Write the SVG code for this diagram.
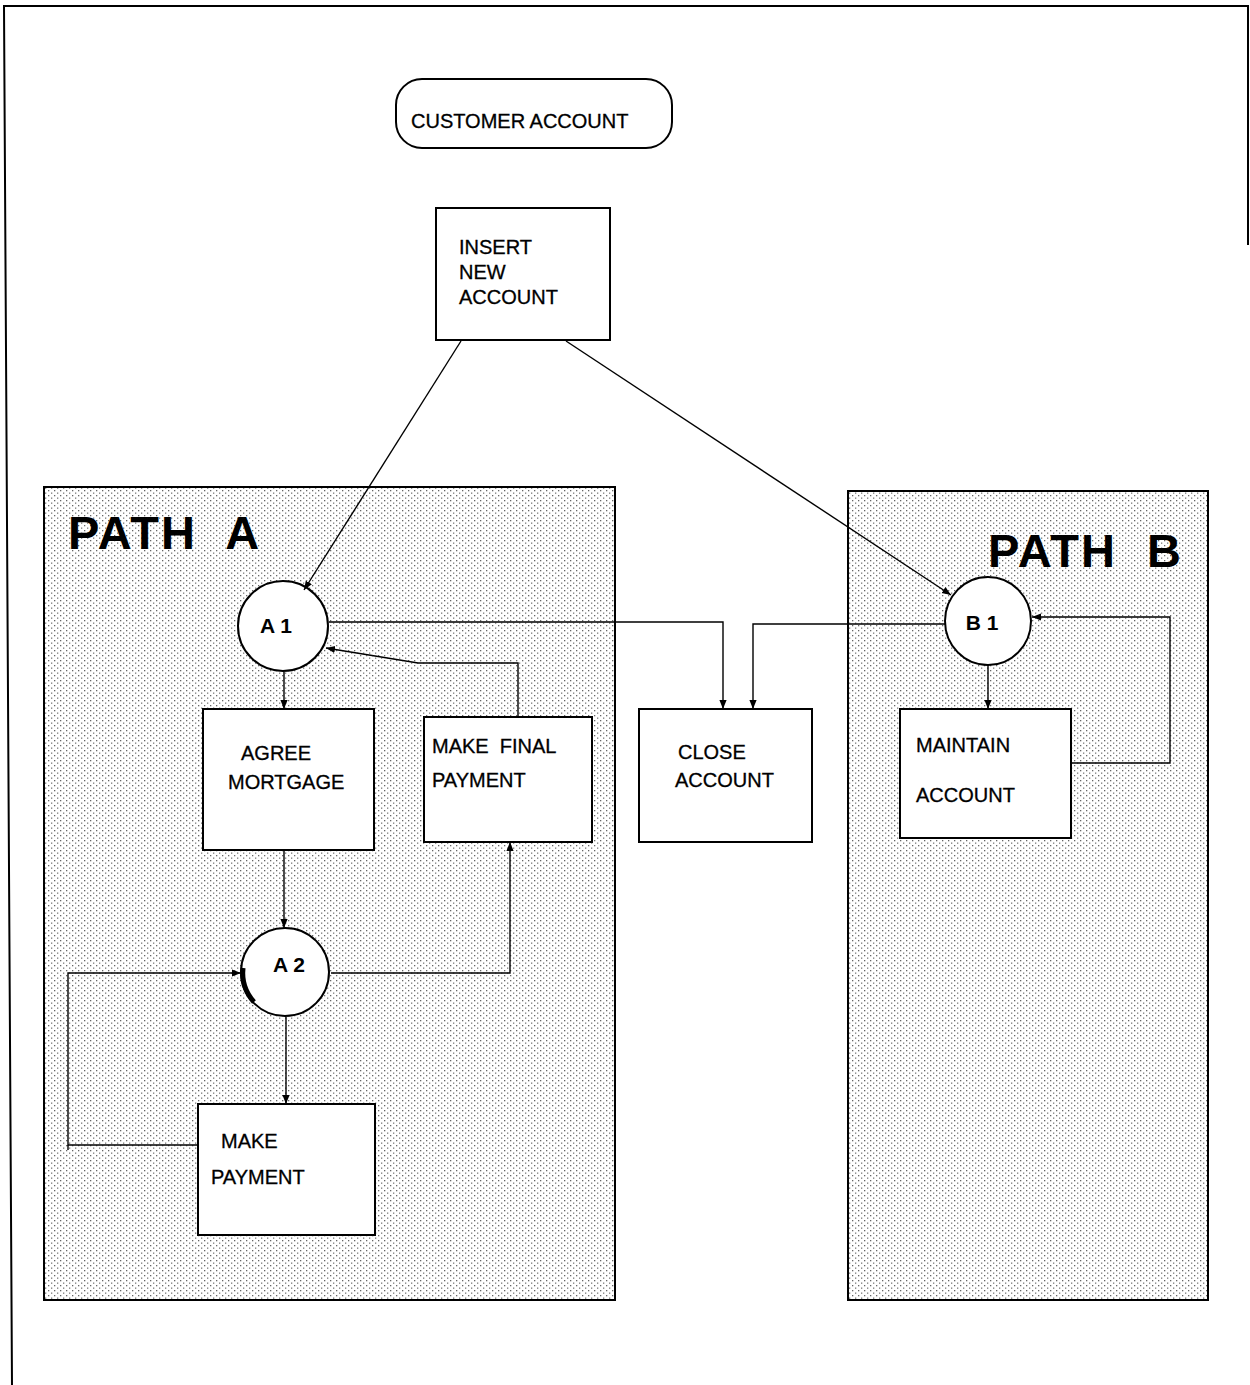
<svg xmlns="http://www.w3.org/2000/svg" width="1250" height="1385" viewBox="0 0 1250 1385">
  <defs>
    <!-- fine halftone stipple used for the two path panels -->
    <pattern id="stipple" width="6" height="5" patternUnits="userSpaceOnUse">
      <rect x="0" y="0" width="1.3" height="1.3" fill="#666"/>
      <rect x="3" y="2.5" width="1.3" height="1.3" fill="#777"/>
    </pattern>
    <marker id="arrow" viewBox="0 0 10 10" refX="10" refY="5" markerWidth="9" markerHeight="9" markerUnits="userSpaceOnUse" orient="auto">
      <path d="M0,1 L10,5 L0,9 Z" fill="#000"/>
    </marker>
    <style>
      .lbl { font-family: "Liberation Sans", Arial, Helvetica, sans-serif; font-size: 20px; fill: #000; stroke: #000; stroke-width: 0.3; }
      .state { font-family: "Liberation Sans", Arial, Helvetica, sans-serif; font-size: 21px; font-weight: bold; fill: #000; }
      .title { font-family: "Liberation Sans", Arial, Helvetica, sans-serif; font-size: 47px; font-weight: bold; letter-spacing: 2px; fill: #000; }
      .box { fill: #fff; stroke: #000; stroke-width: 2; }
      .panel { fill: url(#stipple); stroke: #000; stroke-width: 2; }
      .conn { fill: none; stroke: #000; stroke-width: 1.4; }
    </style>
  </defs>

  <rect width="1250" height="1385" fill="#fff"/>

  <!-- page frame -->
  <polyline points="1248,245 1248,6 4,6 12,1385" fill="none" stroke="#000" stroke-width="2"/>

  <!-- panels -->
  <g id="path-a">
    <rect class="panel" x="44" y="487" width="571" height="813"/>
    <text class="title" x="68" y="549" xml:space="preserve">PATH  A</text>
  </g>
  <g id="path-b">
    <rect class="panel" x="848" y="491" width="360" height="809"/>
    <text class="title" x="988" y="567" xml:space="preserve">PATH  B</text>
  </g>

  <!-- header -->
  <g id="customer-account">
    <rect class="box" x="396" y="79" width="276" height="69" rx="26" ry="26" stroke-width="1.6"/>
    <text class="lbl" x="411" y="128">CUSTOMER ACCOUNT</text>
  </g>

  <g id="insert-new-account">
    <rect class="box" x="436" y="208" width="174" height="132" stroke-width="1.6"/>
    <text class="lbl" x="459" y="254">INSERT</text>
    <text class="lbl" x="459" y="279">NEW</text>
    <text class="lbl" x="459" y="304">ACCOUNT</text>
  </g>

  <!-- states -->
  <g id="a1">
    <circle class="box" cx="283" cy="626" r="45"/>
    <text class="state" x="276" y="633" text-anchor="middle" xml:space="preserve">A 1</text>
  </g>
  <g id="a2">
    <circle class="box" cx="285" cy="972" r="44"/>
    <path d="M243,968 A44,44 0 0 0 254,1002" fill="none" stroke="#000" stroke-width="5"/>
    <text class="state" x="289" y="972" text-anchor="middle" xml:space="preserve">A 2</text>
  </g>
  <g id="b1">
    <ellipse class="box" cx="988" cy="621" rx="43" ry="44"/>
    <text class="state" x="982" y="630" text-anchor="middle" xml:space="preserve">B 1</text>
  </g>

  <!-- activities -->
  <g id="agree-mortgage">
    <rect class="box" x="203" y="709" width="171" height="141"/>
    <text class="lbl" x="241" y="760">AGREE</text>
    <text class="lbl" x="228" y="789">MORTGAGE</text>
  </g>
  <g id="make-final-payment">
    <rect class="box" x="424" y="717" width="168" height="125"/>
    <text class="lbl" x="432" y="753" xml:space="preserve">MAKE  FINAL</text>
    <text class="lbl" x="432" y="787">PAYMENT</text>
  </g>
  <g id="close-account">
    <rect class="box" x="639" y="709" width="173" height="133"/>
    <text class="lbl" x="678" y="759">CLOSE</text>
    <text class="lbl" x="675" y="787">ACCOUNT</text>
  </g>
  <g id="maintain-account">
    <rect class="box" x="900" y="709" width="171" height="129"/>
    <text class="lbl" x="916" y="752">MAINTAIN</text>
    <text class="lbl" x="916" y="802">ACCOUNT</text>
  </g>
  <g id="make-payment">
    <rect class="box" x="198" y="1104" width="177" height="131"/>
    <text class="lbl" x="221" y="1148">MAKE</text>
    <text class="lbl" x="211" y="1184">PAYMENT</text>
  </g>

  <!-- connectors, drawn last so the arrowheads sit on top of node outlines -->
  <g id="connectors">
    <line class="conn" x1="461" y1="341" x2="304" y2="590" marker-end="url(#arrow)"/>
    <line class="conn" x1="566" y1="341" x2="951" y2="595" marker-end="url(#arrow)"/>
    <polyline class="conn" points="329,622 723,622 723,709" marker-end="url(#arrow)"/>
    <polyline class="conn" points="945,624 753,624 753,709" marker-end="url(#arrow)"/>
    <line class="conn" x1="988" y1="665" x2="988" y2="709" marker-end="url(#arrow)"/>
    <polyline class="conn" points="1072,763 1170,763 1170,617 1032,617" marker-end="url(#arrow)"/>
    <line class="conn" x1="284" y1="672" x2="284" y2="709" marker-end="url(#arrow)"/>
    <line class="conn" x1="284" y1="851" x2="284" y2="928" marker-end="url(#arrow)"/>
    <polyline class="conn" points="331,973 510,973 510,842" marker-end="url(#arrow)"/>
    <line class="conn" x1="286" y1="1017" x2="286" y2="1104" marker-end="url(#arrow)"/>
    <polyline class="conn" points="197,1145 68,1145 68,973 241,973" marker-end="url(#arrow)"/>
    <line class="conn" x1="68" y1="1145" x2="68" y2="1150"/>
    <polyline class="conn" points="518,716 518,663 418,663 326,648" marker-end="url(#arrow)"/>
  </g>
</svg>
